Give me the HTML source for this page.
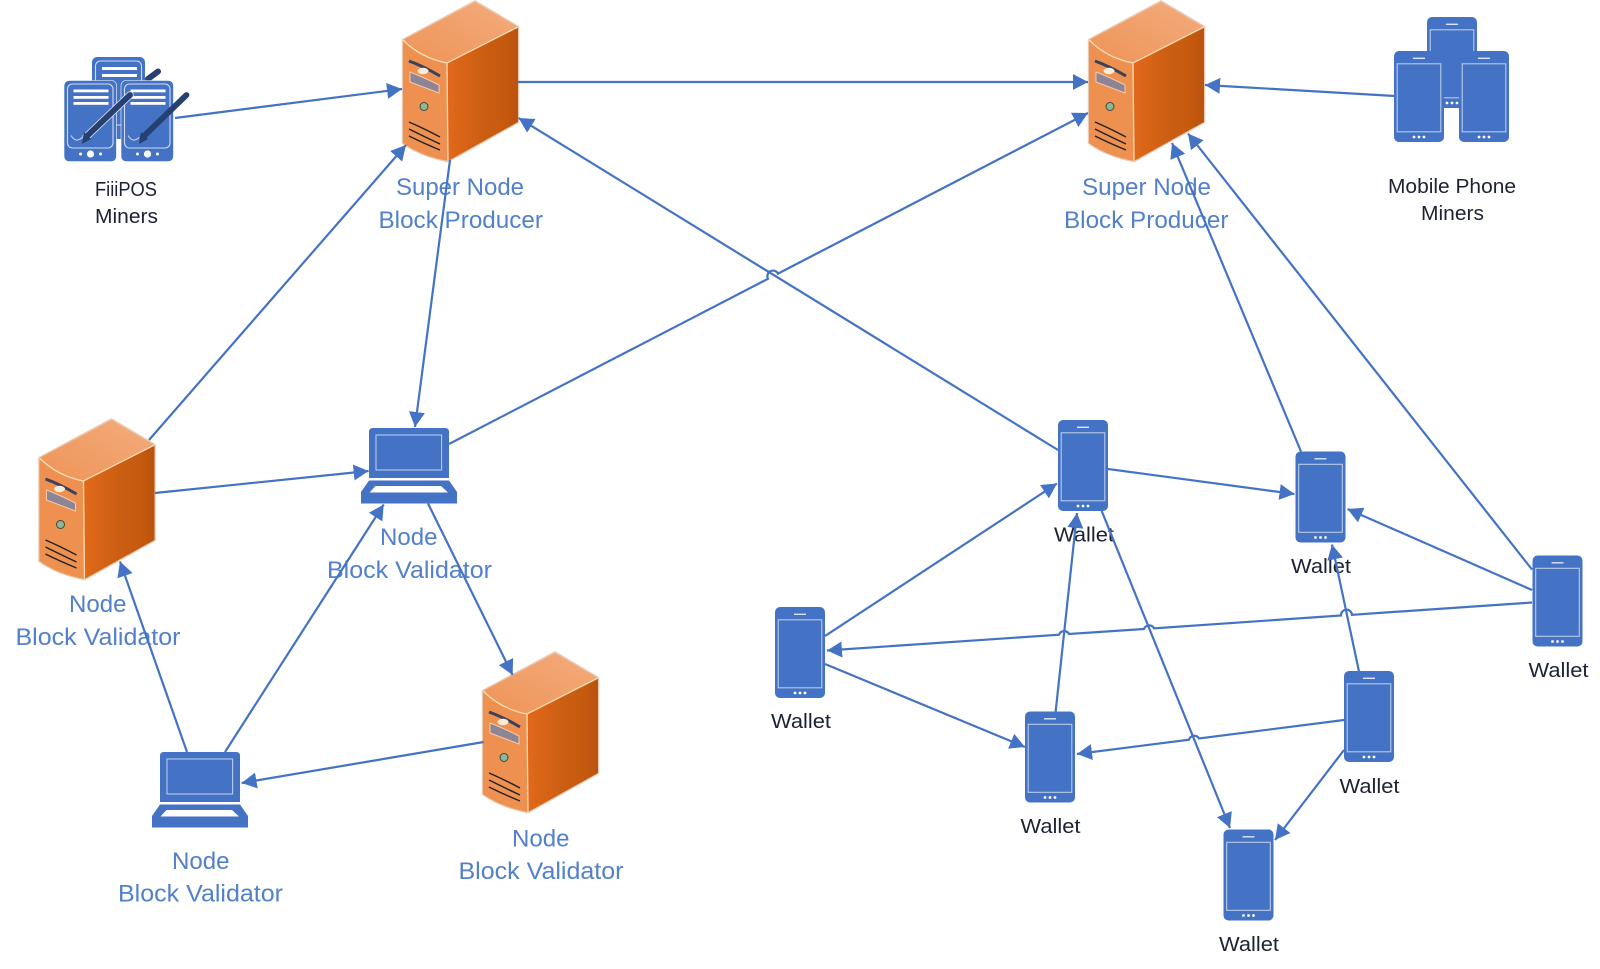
<!DOCTYPE html>
<html>
<head>
<meta charset="utf-8">
<style>
html,body{margin:0;padding:0;background:#fff;width:1600px;height:969px;overflow:hidden}
svg{display:block}
text{font-family:"Liberation Sans",sans-serif}
.b{font-size:24px;fill:#5280cb}
.k{font-size:20px;fill:#1c2233}
.c{fill:none;stroke:#4472c4;stroke-width:2.2;marker-end:url(#ah)}
</style>
</head>
<body>
<svg width="1600" height="969" viewBox="0 0 1600 969" xmlns="http://www.w3.org/2000/svg">
<defs>
<marker id="ah" markerUnits="userSpaceOnUse" markerWidth="18" markerHeight="18" refX="15" refY="8.5" orient="auto">
<path d="M0 0.5 L15 8.5 L0 16.5 Z" fill="#4472c4"/>
</marker>
<linearGradient id="top" x1="0" y1="1" x2="1" y2="0"><stop offset="0" stop-color="#ee9458"/><stop offset="1" stop-color="#f4ac7c"/></linearGradient>
<linearGradient id="side" x1="0" y1="0" x2="1" y2="0"><stop offset="0" stop-color="#e2691a"/><stop offset=".55" stop-color="#c95d12"/><stop offset=".8" stop-color="#c65a0e"/><stop offset="1" stop-color="#b9530f"/></linearGradient>
<g id="server">
<path d="M0 39 L72 0.5 L115 26 V121 L45 160 Q18 155 0 142 Z" fill="#e9c4aa" stroke="#e9c9b2" stroke-width="2.5" stroke-linejoin="round"/>
<path d="M0 39 L72 1 L115 26 L44 62 Q18 57 0 39 Z" fill="url(#top)"/>
<path d="M0 39 Q18 57 44 62 L45 160 Q18 155 0 142 Z" fill="#ee9050"/>
<path d="M44 62 L115 26 V121 L45 160 Z" fill="url(#side)"/>
<path d="M0 39 Q18 57 44 62 L115 26 M44 62 L45 160" fill="none" stroke="#fbdcb4" stroke-width="1.3"/>
<path d="M6 60 Q20 65 37 75" fill="none" stroke="#39415c" stroke-width="3"/>
<ellipse cx="20" cy="70" rx="5.5" ry="3.2" fill="#f6ecd8"/>
<path d="M7 71 Q20 76 36 84 V92 Q20 86 7 81 Z" fill="#8d8496" stroke="#f5cba8" stroke-width="1"/>
<circle cx="21" cy="105.5" r="4" fill="#8cb79a" stroke="#3f4a3c" stroke-width="1"/>
<path d="M6 121 Q20 127 37 136 M6 128 Q20 135 37 143 M6 135 Q20 142 37 149" fill="none" stroke="#222" stroke-width="1.4"/>
</g>
<g id="phone">
<rect x="0" y="0" width="50" height="91" rx="5" fill="#4472c4"/>
<rect x="3.2" y="12.8" width="43.6" height="68" fill="none" stroke="#b9cbe9" stroke-width="1.1"/>
<rect x="19" y="6.6" width="12" height="1.4" fill="#dbe5f5"/>
<circle cx="20" cy="86" r="1.4" fill="#fff"/><circle cx="25" cy="86" r="1.4" fill="#fff"/><circle cx="30" cy="86" r="1.4" fill="#fff"/>
</g>
<g id="laptop">
<path d="M8 4 Q8 0 12 0 H84 Q88 0 88 4 V50 H8 Z" fill="#4472c4"/>
<rect x="15" y="7" width="65.6" height="35" fill="none" stroke="#b9cbe9" stroke-width="1.1"/>
<path d="M8 52.5 H88 L96 64 V75.5 H0 V64 Z" fill="#4472c4"/>
<path d="M14.5 58 H80 L87 64.5 H8.5 Z" fill="#fff"/>
</g>
<g id="tablet">
<rect x="0" y="0" width="52.5" height="81" rx="5" fill="#4472c4" stroke="#fff" stroke-width=".6"/>
<rect x="3.5" y="3.5" width="45.5" height="64" rx="5" fill="none" stroke="#cfdcf1" stroke-width="1.1"/>
<rect x="9.5" y="9" width="35" height="2.8" fill="#fff"/><rect x="9.5" y="15.5" width="35" height="2.8" fill="#fff"/><rect x="9.5" y="21.5" width="35" height="2.8" fill="#fff"/>
<circle cx="26.5" cy="73.5" r="3.6" fill="#fff"/><circle cx="16.5" cy="73.5" r="1.5" fill="#fff"/><circle cx="36.5" cy="73.5" r="1.5" fill="#fff"/>
<path d="M7 55 Q12 63 18 57" fill="none" stroke="#cfdcf1" stroke-width="1"/>
</g>
</defs>

<!-- FiiiPOS icon -->
<g transform="translate(92,57)">
<rect width="53" height="82" rx="5" fill="#4472c4"/>
<rect x="3.5" y="4" width="46" height="64" rx="5" fill="none" stroke="#cfdcf1" stroke-width="1.1"/>
<rect x="10" y="10" width="35" height="3" fill="#fff"/><rect x="10" y="17" width="35" height="3" fill="#fff"/>
</g>
<line x1="148" y1="79" x2="158" y2="71.5" stroke="#26406f" stroke-width="6" stroke-linecap="round"/>
<use href="#tablet" x="64" y="80.5"/>
<use href="#tablet" x="121" y="80.5"/>
<path d="M86 137 L130 95" stroke="#cfdcf1" stroke-width="7.5" stroke-linecap="round"/>
<path d="M86 137 L130 95" stroke="#26406f" stroke-width="5.8" stroke-linecap="round"/>
<path d="M82 144 L84 132 L91 139 Z" fill="#26406f"/>
<path d="M143 137 L186.5 95" stroke="#26406f" stroke-width="5.8" stroke-linecap="round"/>
<path d="M139 144 L141 132 L148 139 Z" fill="#26406f"/>

<!-- Mobile miners -->
<use href="#phone" x="1427" y="17"/>
<use href="#phone" x="1394" y="51" />
<use href="#phone" x="1459" y="51" />

<!-- Servers -->
<use href="#server" x="403" y="1"/>
<use href="#server" x="1089" y="1"/>
<use href="#server" x="39.5" y="419"/>
<use href="#server" x="483" y="652"/>

<!-- Laptops -->
<use href="#laptop" x="361" y="428"/>
<use href="#laptop" x="152" y="752"/>

<!-- Wallet phones -->
<use href="#phone" x="775" y="607"/>
<use href="#phone" x="1058" y="420"/>
<use href="#phone" x="1295.5" y="451.5"/>
<use href="#phone" x="1532.5" y="555.5"/>
<use href="#phone" x="1025" y="711.5"/>
<use href="#phone" x="1344" y="671"/>
<use href="#phone" x="1223.5" y="829.5"/>

<!-- Labels -->
<text class="k" x="95" y="196" textLength="62" lengthAdjust="spacingAndGlyphs">FiiiPOS</text>
<text class="k" x="95" y="223" textLength="63" lengthAdjust="spacingAndGlyphs">Miners</text>
<text class="k" x="1388" y="193" textLength="128" lengthAdjust="spacingAndGlyphs">Mobile Phone</text>
<text class="k" x="1421" y="220" textLength="63" lengthAdjust="spacingAndGlyphs">Miners</text>

<text class="b" x="396" y="195" textLength="128" lengthAdjust="spacingAndGlyphs">Super Node</text>
<text class="b" x="378.5" y="228" textLength="164.5" lengthAdjust="spacingAndGlyphs">Block Producer</text>
<text class="b" x="1082" y="195" textLength="129" lengthAdjust="spacingAndGlyphs">Super Node</text>
<text class="b" x="1064" y="228" textLength="164.5" lengthAdjust="spacingAndGlyphs">Block Producer</text>

<text class="b" x="69" y="612" textLength="57.5" lengthAdjust="spacingAndGlyphs">Node</text>
<text class="b" x="15.5" y="645" textLength="165" lengthAdjust="spacingAndGlyphs">Block Validator</text>
<text class="b" x="380" y="545" textLength="57.5" lengthAdjust="spacingAndGlyphs">Node</text>
<text class="b" x="327" y="578" textLength="165" lengthAdjust="spacingAndGlyphs">Block Validator</text>
<text class="b" x="512" y="846.5" textLength="57.5" lengthAdjust="spacingAndGlyphs">Node</text>
<text class="b" x="458.5" y="879" textLength="165" lengthAdjust="spacingAndGlyphs">Block Validator</text>
<text class="b" x="172" y="869" textLength="57.5" lengthAdjust="spacingAndGlyphs">Node</text>
<text class="b" x="118" y="901.5" textLength="165" lengthAdjust="spacingAndGlyphs">Block Validator</text>

<text class="k" x="771" y="728" textLength="60" lengthAdjust="spacingAndGlyphs">Wallet</text>
<text class="k" x="1054" y="541.5" textLength="60" lengthAdjust="spacingAndGlyphs">Wallet</text>
<text class="k" x="1291" y="573" textLength="60" lengthAdjust="spacingAndGlyphs">Wallet</text>
<text class="k" x="1528.5" y="677" textLength="60" lengthAdjust="spacingAndGlyphs">Wallet</text>
<text class="k" x="1020.5" y="833" textLength="60" lengthAdjust="spacingAndGlyphs">Wallet</text>
<text class="k" x="1339.5" y="793" textLength="60" lengthAdjust="spacingAndGlyphs">Wallet</text>
<text class="k" x="1219" y="951" textLength="60" lengthAdjust="spacingAndGlyphs">Wallet</text>

<!-- Connectors -->
<path class="c" d="M175 118 L402 89"/>
<path class="c" d="M518 82 L1088 82"/>
<path class="c" d="M149 440 L406 145"/>
<path class="c" d="M450 160 L415 427"/>
<path class="c" d="M449 444 L768 278.8 A5.6 5.6 0 0 1 778 273.6 L1088 113"/>
<path class="c" d="M1058 450 L518.6 118"/>
<path class="c" d="M1301 451.5 L1172 143"/>
<path class="c" d="M1532 569.5 L1188 133.5"/>
<path class="c" d="M1395 96 L1205 85"/>
<path class="c" d="M155 493 L368.6 471"/>
<path class="c" d="M187 752 L120 561.5"/>
<path class="c" d="M225 752 L383.7 504.5"/>
<path class="c" d="M428 503.5 L512.6 675"/>
<path class="c" d="M483.7 742 L241.6 783"/>
<path class="c" d="M1108 469 L1294.5 494"/>
<path class="c" d="M825 636 L1057 483.5"/>
<path class="c" d="M1055.6 712 L1077 513"/>
<path class="c" d="M1101.7 511 L1230 828"/>
<path class="c" d="M1532 590 L1347.5 509"/>
<path class="c" d="M1532 602.5 L1352 614.8 A5.5 5.5 0 0 0 1341 615.5 L1154 628.3 A5.5 5.5 0 0 0 1144 629 L1069 634 A5.5 5.5 0 0 0 1059 634.7 L827 650.5"/>
<path class="c" d="M825 664 L1025 747"/>
<path class="c" d="M1359 671.5 L1332 544.5"/>
<path class="c" d="M1344 720 L1199 738.5 A5.5 5.5 0 0 0 1189 739.7 L1077 754"/>
<path class="c" d="M1344 750 L1275 840"/>
</svg>
</body>
</html>
